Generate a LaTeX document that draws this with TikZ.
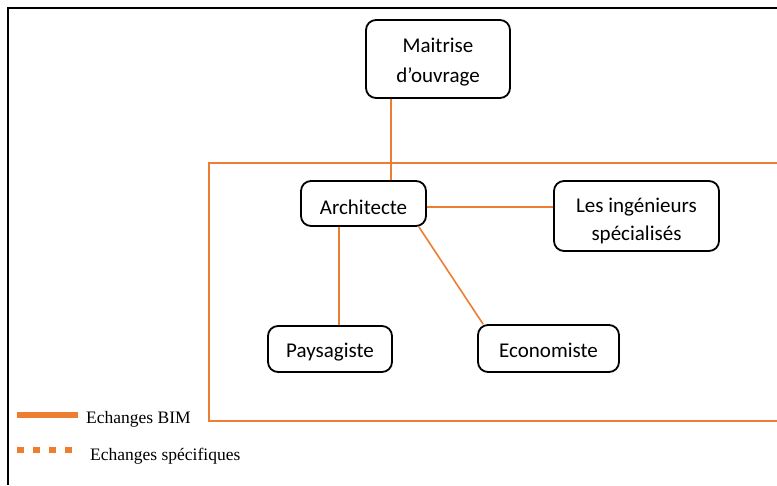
\documentclass[tikz,border=0pt]{standalone}
\usepackage{fontspec}
\setmainfont{Carlito}
\newfontfamily\legendfont{Liberation Serif}
\definecolor{bimorange}{RGB}{237,125,49}
% lower a line of text visually while keeping its box size
\newcommand\dropby[2]{\raisebox{-#1}[\height][\depth]{#2}}
\begin{document}
\begin{tikzpicture}[x=1pt,y=-1pt,
  actor/.style={draw=black, line width=1.8pt, rounded corners=10pt, fill=white,
    align=center, inner sep=0pt, font=\fontsize{21}{30}\selectfont},
  link/.style={draw=bimorange, line width=1.6pt},
  frame/.style={draw=bimorange, line width=2pt},
  legendtext/.style={anchor=base west, inner sep=0pt, font=\legendfont\fontsize{17.5}{20}\selectfont}
]
\useasboundingbox (0,0) rectangle (777,485);

% outer border
\draw[black, line width=2pt] (8,485) -- (8,8) -- (777,8);

% design team frame
\draw[frame] (777,163) -- (209,163) -- (209,421) -- (777,421);

% actors
\node[actor, minimum width=144pt, minimum height=78pt] (maitrise) at (438,59)
  {\dropby{3pt}{Maitrise}\\\dropby{3pt}{d’ouvrage}};
\node[actor, minimum width=125pt, minimum height=45pt] (arch) at (363.5,203.5)
  {\dropby{3.5pt}{Architecte}};
\node[actor, minimum width=165pt, minimum height=70pt, font=\fontsize{21}{28.5}\selectfont] (ing) at (636.5,216)
  {\dropby{5pt}{Les ingénieurs}\\\dropby{5pt}{spécialisés}};
\node[actor, minimum width=124pt, minimum height=46pt] (pays) at (330,349)
  {\dropby{3pt}{Paysagiste}};
\node[actor, minimum width=141pt, minimum height=47pt] (eco) at (548.5,348.5)
  {\dropby{2pt}{Economiste}};

% exchanges
\draw[link] ([xshift=27.5pt]arch.north |- maitrise.south) -- ([xshift=27.5pt]arch.north);
\draw[link] ([yshift=-3.5pt]arch.east) -- ([yshift=-3.5pt]arch.east -| ing.west);
\draw[link] ([xshift=-24.5pt]arch.south) -- ([xshift=-24.5pt]arch.south |- pays.north);
\draw[link] ([xshift=-8pt]arch.south east) -- ([xshift=6pt]eco.north west);

% legend
\coordinate (l1a) at (17,415);
\coordinate (l1b) at (78,415);
\coordinate (l2a) at (17,450);
\coordinate (l2b) at (73,450);
\draw[bimorange, line width=6pt] (l1a) -- (l1b);
\draw[bimorange, line width=6pt, dash pattern=on 7pt off 9pt] (l2a) -- (l2b);
\node[legendtext] (leg1) at (86,423) {Echanges BIM};
\node[legendtext] (leg2) at (90,460) {Echanges spécifiques};
\end{tikzpicture}
\end{document}
